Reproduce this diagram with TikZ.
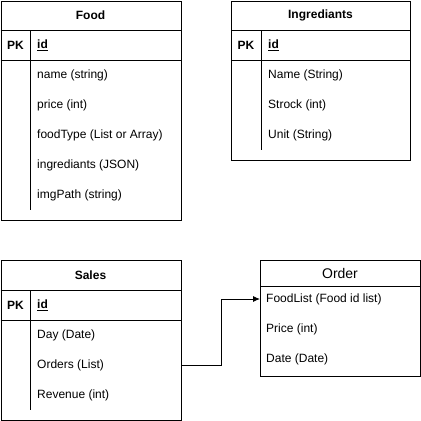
\documentclass[tikz,border=0pt]{standalone}
\usepackage{fontspec}
\setmainfont{Liberation Sans}
\usetikzlibrary{positioning, arrows.meta}
\tikzstyle{tbl} = [rectangle, draw, line width=0.9pt, anchor=north west, inner sep=0pt]
\tikzstyle{row} = [anchor=west, inner xsep=0pt, font=\fontsize{12}{14}\selectfont]
\tikzstyle{ttl} = [font=\fontsize{12}{14}\selectfont\bfseries]
\tikzstyle{sep} = [draw, line width=0.9pt]
\tikzstyle{line} = [draw, line width=0.9pt, -{Latex[length=7pt, width=6pt]}]

\begin{document}
\begin{tikzpicture}[x=1pt, y=-1pt]
		\useasboundingbox (0,0) rectangle (421,421);
		% Food
		\node[tbl, minimum width=180, minimum height=219] (food) at (0.5,0.5) {};
		\node[ttl] (foodt) at (90.5,15.5) {Food};
		\node[ttl] (foodpk) at (15.5,45.5) {PK};
		\node[row] (foodid) at (37,45.5) {\underline{\textbf{id}}};
		\node[row] (fname) at (37,75.5) {name (string)};
		\node[row] (fprice) at (37,105.5) {price (int)};
		\node[row] (ftype) at (37,135.5) {foodType (List or Array)};
		\node[row] (fingr) at (37,165.5) {ingrediants (JSON)};
		\node[row] (fimg) at (37,195.5) {imgPath (string)};
		\path[sep] (0.5,30.5) -- (180.5,30.5) (0.5,60.5) -- (180.5,60.5) (30.5,30.5) -- (30.5,210);
		
		% Ingrediants
		\node[tbl, minimum width=179, minimum height=159] (ingr) at (231,0.5) {};
		\node[ttl] (ingrt) at (320.5,15.5) {Ingrediants};
		\node[ttl] (ingrpk) at (246,45.5) {PK};
		\node[row] (ingrid) at (268,45.5) {\underline{\textbf{id}}};
		\node[row] (iname) at (268,75.5) {Name (String)};
		\node[row] (istock) at (268,105.5) {Strock (int)};
		\node[row] (iunit) at (268,135.5) {Unit (String)};
		\path[sep] (231,30.5) -- (410,30.5) (231,60.5) -- (410,60.5) (261,30.5) -- (261,150);
		
		% Sales
		\node[tbl, minimum width=180, minimum height=160] (sales) at (0.5,260) {};
		\node[ttl] (salest) at (90.5,275.5) {Sales};
		\node[ttl] (salespk) at (15.5,305.5) {PK};
		\node[row] (salesid) at (37,305.5) {\underline{\textbf{id}}};
		\node[row] (sday) at (37,335.5) {Day (Date)};
		\node[row] (sorders) at (37,365.5) {Orders (List)};
		\node[row] (srev) at (37,395.5) {Revenue (int)};
		\path[sep] (0.5,290) -- (180.5,290) (0.5,320) -- (180.5,320) (30.5,290) -- (30.5,410);
		
		% Order
		\node[tbl, minimum width=160, minimum height=116] (order) at (260,260) {};
		\node[font=\fontsize{14}{16}\selectfont] (ordert) at (340,273.5) {Order};
		\node[row, inner xsep=6pt] (ofood) at (260,299) {FoodList (Food id list)};
		\node[row, inner xsep=6pt] (oprice) at (260,329) {Price (int)};
		\node[row, inner xsep=6pt] (odate) at (260,359) {Date (Date)};
		\path[sep] (260,286) -- (420,286);
		
		\path[line] (sales.east |- sorders) -- ++(40,0) |- (ofood.west);
	\end{tikzpicture}
\end{document}
